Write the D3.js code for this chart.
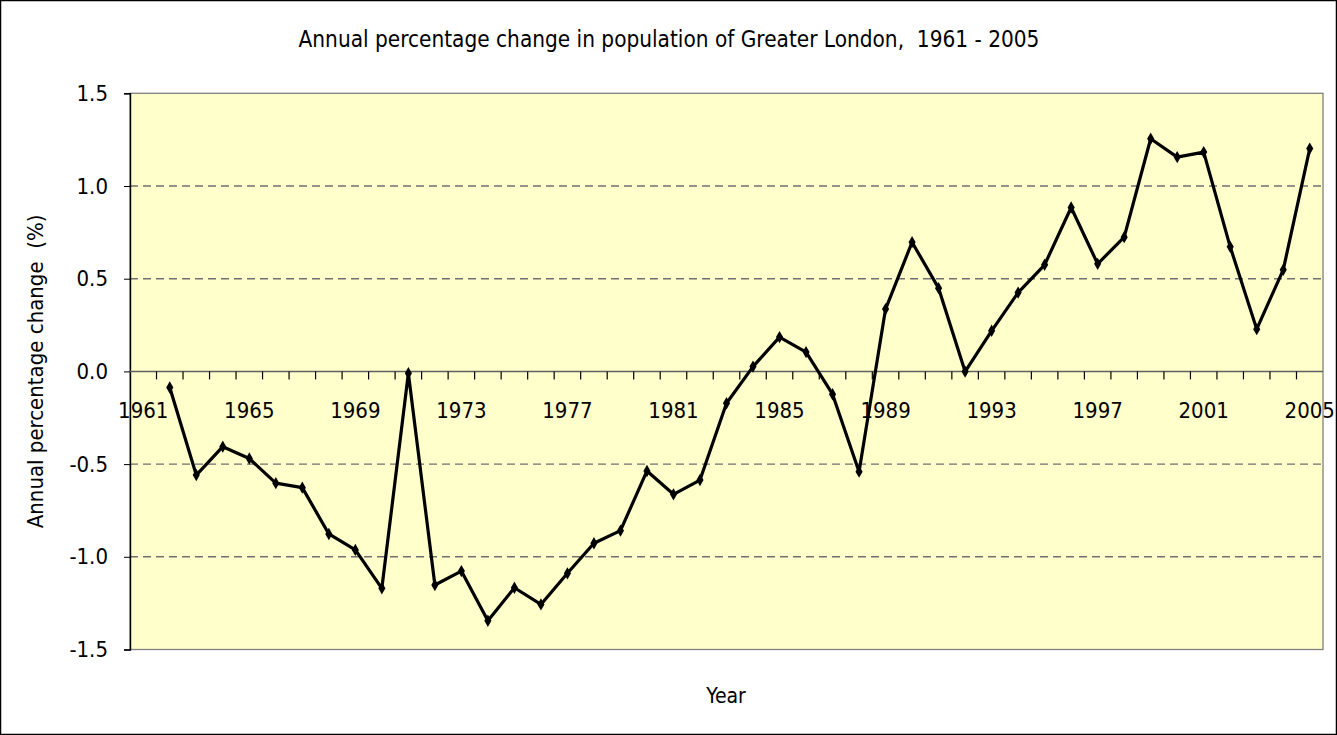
<!DOCTYPE html>
<html><head><meta charset="utf-8">
<script src="https://cdn.jsdelivr.net/npm/d3@7"></script>
<style>
html,body{margin:0;padding:0;background:#fff;}
svg{display:block;}
svg text{font-family:"DejaVu Sans Condensed","DejaVu Sans",sans-serif;font-stretch:condensed;white-space:pre;}
</style></head>
<body><svg id="chart" width="1337" height="735"></svg>
<script>
const years = d3.range(1961, 2006);
const values = [null,
  -0.087, -0.559, -0.406, -0.470, -0.603, -0.627, -0.877, -0.963, -1.170,
  -0.010, -1.152, -1.077, -1.345, -1.167, -1.257, -1.089, -0.927, -0.859,
  -0.537, -0.663, -0.586, -0.172, 0.026, 0.185, 0.104, -0.123, -0.541,
  0.336, 0.697, 0.449, -0.001, 0.219, 0.425, 0.575, 0.884, 0.580,
  0.724, 1.255, 1.156, 1.183, 0.672, 0.228, 0.548, 1.202];
const yTicks = [-1.5, -1.0, -0.5, 0.0, 0.5, 1.0, 1.5];
const labelYears = years.filter((y, i) => i % 4 === 0);
const title = "Annual percentage change in population of Greater London,  1961 - 2005";
const yTitle = "Annual percentage change  (%)";
const xTitle = "Year";

const W = 1337, H = 735;
const L = 130, R = 1323, T = 93.3, B = 649.5;
const svg = d3.select("#chart");

svg.append("rect").attr("x", 0.5).attr("y", 0.5).attr("width", W - 1).attr("height", H - 1)
  .attr("fill", "#fff").attr("stroke", "#000").attr("stroke-width", 1.5);

const x = d3.scaleBand().domain(years).range([L, R]).padding(0);
const y = d3.scaleLinear().domain([-1.5, 1.5]).range([B, T]);

svg.append("rect").attr("x", L).attr("y", T).attr("width", R - L).attr("height", B - T)
  .attr("fill", "#FFFFCC").attr("stroke", "#808080").attr("stroke-width", 1.3);

// gridlines
svg.append("g").selectAll("line").data(yTicks.filter(v => v !== 0 && Math.abs(v) !== 1.5)).join("line")
  .attr("x1", L).attr("x2", R).attr("y1", d => y(d)).attr("y2", d => y(d))
  .attr("stroke", "#707070").attr("stroke-width", 1.4).attr("stroke-dasharray", "8,5");

// y axis
const fmt = d => d3.format(".1f")(d).replace("−", "-");
const yAxis = d3.axisLeft(y).tickValues(yTicks).tickFormat(fmt).tickSize(6).tickPadding(16);
const gy = svg.append("g").attr("transform", `translate(${L},0)`).call(yAxis);
gy.attr("font-family", null).attr("font-size", null);
gy.select(".domain").attr("stroke", "#000").attr("stroke-width", 1.4);
gy.selectAll(".tick line").attr("stroke", "#000");
gy.selectAll(".tick text").attr("font-size", 22).attr("fill", "#000");

// x axis at zero
const y0 = y(0);
svg.append("line").attr("x1", L).attr("x2", R).attr("y1", y0).attr("y2", y0)
  .attr("stroke", "#606060").attr("stroke-width", 1.5);
svg.append("g").selectAll("line").data(years.slice(0, -1)).join("line")
  .attr("x1", d => x(d) + x.bandwidth()).attr("x2", d => x(d) + x.bandwidth())
  .attr("y1", y0).attr("y2", y0 + 8).attr("stroke", "#000").attr("stroke-width", 1.2);
svg.append("g").selectAll("text").data(labelYears).join("text")
  .attr("x", d => x(d) + x.bandwidth() / 2).attr("y", y0 + 47)
  .attr("text-anchor", "middle").attr("font-size", 22).attr("fill", "#000").text(d => d);

// line
const pts = years.map((yr, i) => ({yr, v: values[i]})).filter(d => d.v !== null);
const line = d3.line().x(d => x(d.yr) + x.bandwidth() / 2).y(d => y(d.v));
svg.append("path").datum(pts).attr("d", line).attr("fill", "none")
  .attr("stroke", "#000").attr("stroke-width", 3.2).attr("stroke-linejoin", "round");
const diamond = d3.symbol().type(d3.symbolDiamond).size(44);
svg.append("g").selectAll("path").data(pts).join("path")
  .attr("d", diamond)
  .attr("transform", d => `translate(${x(d.yr) + x.bandwidth() / 2},${y(d.v)})`)
  .attr("fill", "#000");

// titles
svg.append("text").attr("x", 669).attr("y", 47).attr("text-anchor", "middle")
  .attr("font-size", 22.4).attr("fill", "#000").text(title);
svg.append("text").attr("x", 726).attr("y", 703).attr("text-anchor", "middle")
  .attr("font-size", 21).attr("fill", "#000").text(xTitle);
svg.append("text").attr("transform", `translate(43,${(T + B) / 2}) rotate(-90)`)
  .attr("text-anchor", "middle").attr("font-size", 22).attr("fill", "#000").text(yTitle);
</script></body></html>
